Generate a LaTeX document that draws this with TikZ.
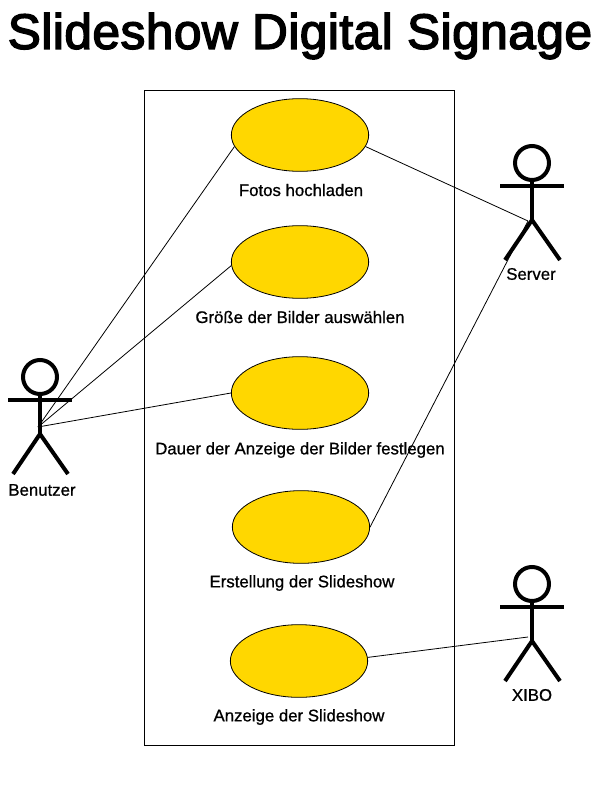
\documentclass[tikz,border=0pt]{standalone}
\usepackage{fontspec}
\setmainfont{Liberation Sans}
\newfontfamily\titlefont[FakeBold=3,LetterSpace=1]{Liberation Sans}
\newfontfamily\labelfont[FakeBold=0.8]{Liberation Sans}
\usetikzlibrary{shapes.geometric}
\definecolor{gold}{HTML}{FFD700}
\tikzset{
  usecase/.style={draw=black, fill=gold, ellipse, line width=0.6pt, inner sep=0pt,
    minimum width=103pt, minimum height=54.5pt},
  caselabel/.style={font=\labelfont\fontsize{12.6}{15}\selectfont, text=black},
  actorlabel/.style={font=\labelfont\fontsize{12.6}{15}\selectfont, text=black},
  actorline/.style={draw=black, line width=3pt},
  actorhead/.style={draw=black, fill=white, circle, line width=3pt, inner sep=0pt, minimum size=25.5pt},
  link/.style={draw=black, line width=0.6pt},
}
\begin{document}
\begin{tikzpicture}[x=0.75pt, y=-0.75pt]
  \useasboundingbox (0,0) rectangle (600,788);
  \fill[white] (0,0) rectangle (600,788);
  \node[font=\titlefont\fontsize{37.2}{42}\selectfont] (title) at (300,36) {Slideshow Digital Signage};
  % system boundary
  \draw[link] (144.5,90) rectangle (454,745);
  % use cases
  \node[usecase] (upload) at (300,135) {};
  \node[usecase] (size)   at (300,262) {};
  \node[usecase] (time)   at (300,393) {};
  \node[usecase] (create) at (301,527) {};
  \node[usecase] (show)   at (299,661) {};
  \node[caselabel] (uploadlabel) at (301,190) {Fotos hochladen};
  \node[caselabel] (sizelabel)   at (300,317) {Größe der Bilder auswählen};
  \node[caselabel] (timelabel)   at (300,450) {Dauer der Anzeige der Bilder festlegen};
  \node[caselabel] (createlabel) at (302,583) {Erstellung der Slideshow};
  \node[caselabel] (showlabel)   at (299,717) {Anzeige der Slideshow};
  % actors
  \foreach \name/\x/\y/\text/\lx/\ly in {benutzer/40/377/Benutzer/42/490, server/532/163/Server/531/274, xibo/532/584/XIBO/532/695}{
    \node[actorhead] (\name head) at (\x,\y) {};
    \draw[actorline] (\x-32,\y+23) -- (\x+32,\y+23);
    \draw[actorline] (\name head.south) -- (\x,\y+57) coordinate (\name hip);
    \draw[actorline] (\x-27,\y+97) -- (\name hip) -- (\x+28,\y+97);
    \node[actorlabel] (\name label) at (\lx,\ly) {\text};
  }
  \coordinate (benutzerhand) at (38,427);
  \coordinate (serverhand) at (528,221);
  \coordinate (xibohand) at (528,637);
  % connectors
  \draw[link] (benutzerhand) -- (upload.190);
  \draw[link] (benutzerhand) -- (size.183);
  \draw[link] (benutzerhand) -- (time.west);
  \draw[link] (upload.-10) -- (serverhand);
  \draw[link] (create.east) -- (serverhand);
  \draw[link] (show.3) -- (xibohand);
\end{tikzpicture}
\end{document}
